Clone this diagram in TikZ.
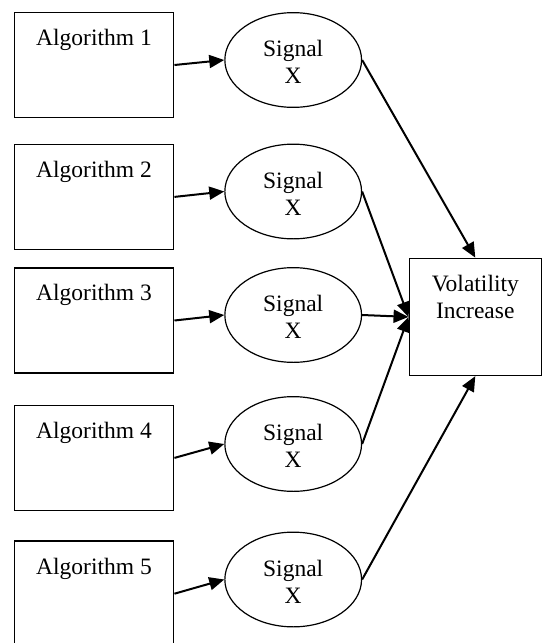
\documentclass[tikz,border=0pt]{standalone}
\usepackage{fontspec}
\setmainfont{Liberation Serif}
\usetikzlibrary{arrows.meta,shapes.geometric,calc}
\begin{document}
\begin{tikzpicture}[x=1pt,y=1pt,
  algbox/.style={draw, line width=1.5pt, minimum width=159.4pt, minimum height=105pt, inner sep=0pt},
  sig/.style={draw, ellipse, line width=1.2pt, minimum width=136.7pt, minimum height=94.7pt, inner sep=0pt, align=center, font=\fontsize{23.5}{27}\selectfont},
  volbox/.style={draw, line width=1.5pt, minimum width=132pt, minimum height=117pt, inner sep=0pt},
  txt/.style={font=\fontsize{23.5}{27}\selectfont, inner sep=0pt},
  conn/.style={line width=2pt, -{Triangle[length=15pt,width=13pt]}}
]
\useasboundingbox (0,0) rectangle (543,-643);
\clip (0,0) rectangle (543,-643);

% algorithm boxes
\node[algbox] (a1) at (94,-65) {};
\node[algbox] (a2) at (94,-196.9) {};
\node[algbox] (a3) at (94,-320.5) {};
\node[algbox] (a4) at (94,-457.9) {};
\node[algbox] (a5) at (94,-593.7) {};
\foreach \i in {1,...,5}
  \node[txt, anchor=base] (t\i) at ($(a\i.north)+(0,-33.7)$) {Algorithm \i};

% signal ellipses
\node[sig] (s1) at (293.2,-60)    {\rule{0pt}{20pt}Signal\\X};
\node[sig] (s2) at (293.2,-191.5) {\rule{0pt}{20pt}Signal\\X};
\node[sig] (s3) at (293.2,-315)   {\rule{0pt}{20pt}Signal\\X};
\node[sig] (s4) at (293.2,-444)   {\rule{0pt}{20pt}Signal\\X};
\node[sig] (s5) at (293.2,-579.5) {\rule{0pt}{20pt}Signal\\X};

% volatility box
\node[volbox] (v) at (475.3,-316.9) {};
\node[txt, anchor=base] (vt1) at ($(v.north)+(0,-34)$) {Volatility};
\node[txt, anchor=base] (vt2) at ($(vt1.base)+(0,-27.3)$) {Increase};

% connectors
\foreach \i in {1,...,5}
  \draw[conn] (a\i.east) -- (s\i.west);
\draw[conn] (s1.east) -- (v.north);
\draw[conn] (s2.east) -- (v.west);
\draw[conn] (s3.east) -- (v.west);
\draw[conn] (s4.east) -- (v.west);
\draw[conn] (s5.east) -- (v.south);
\end{tikzpicture}
\end{document}
